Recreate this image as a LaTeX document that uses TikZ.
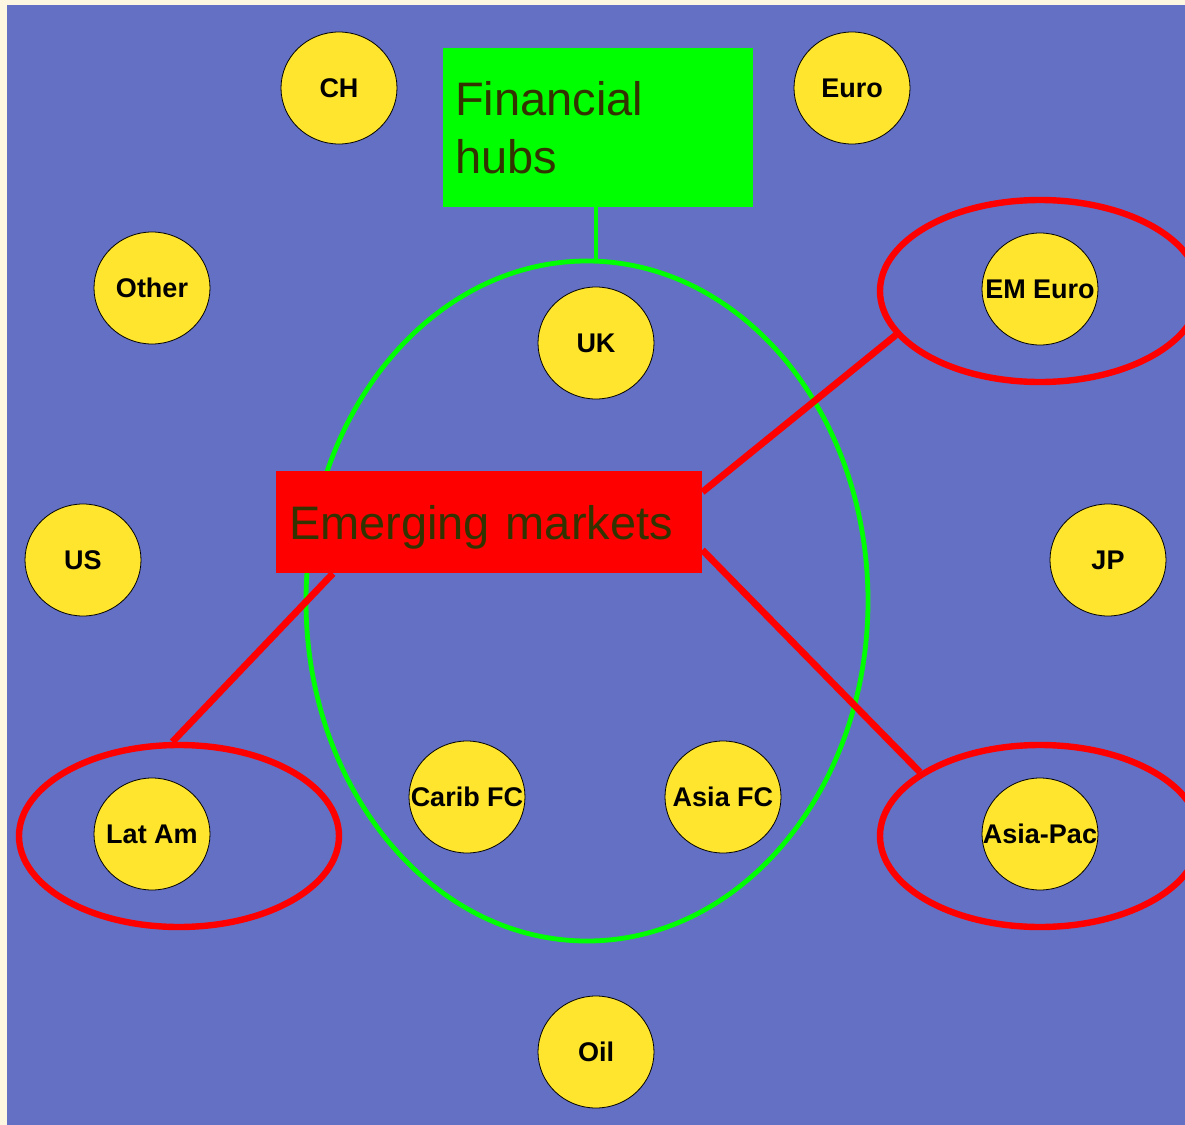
\documentclass[tikz,border=0pt]{standalone}
\usepackage{fontspec}
\setmainfont{Liberation Sans}
\usetikzlibrary{shapes.geometric}
\definecolor{slide}{HTML}{6370C4}
\definecolor{margin}{HTML}{FDF6E1}
\definecolor{coin}{HTML}{FFE52D}
\definecolor{olive}{HTML}{333300}
\newcommand{\mlabel}[1]{\makebox[0pt]{#1}}
\tikzset{
    %Define style for the market circles
    mkt/.style={
           ellipse,
           draw=black, thin,
           fill=coin,
           minimum width=58pt,
           minimum height=56pt,
           inner sep=0pt,
           font=\fontsize{13.5}{15}\selectfont\bfseries},
    % Define style for rings round a group
    ring/.style={
           ellipse,
           draw,
           line width=3.2pt,
           minimum width=160pt,
           minimum height=91pt,
           inner sep=0pt},
    % Define style for the label boxes
    tag/.style={
           rectangle,
           inner ysep=0pt,
           align=left,
           text=olive,
           font=\fontsize{23.5}{29}\selectfont},
    % Define red connector style
    link/.style={
           draw=red,
           line width=3.4pt}
}
\begin{document}
\begin{tikzpicture}[x=0.5pt, y=-0.5pt]

 \clip (0,0) rectangle (1185,1125);
 \fill[margin] (0,0) rectangle (1185,1125);
 \fill[slide] (7,5) rectangle (1185,1125);

 % groups
 \node[ring, draw=green, line width=2.4pt, minimum width=281pt, minimum height=340pt] (fhring) at (587,601) {};
 \node[ring, draw=red] (emring) at (1040,291) {};
 \node[ring, draw=red] (laring) at (179,836) {};
 \node[ring, draw=red] (apring) at (1040,836) {};

 % labels
 \node[tag, fill=green, text width=143pt, inner xsep=6pt, minimum height=79.5pt] (hubs) at (598,127.5) {Financial\\hubs};
 \node[tag, fill=red, text width=200pt, inner xsep=6.5pt, minimum height=51pt, text depth=0pt] (em) at (489,522) {Emerging markets};

 \draw[green, line width=2.4pt] ([xshift=-1pt]hubs.south) -- ([xshift=-1pt]hubs.south |- fhring.north);
 \draw[link] ([yshift=15pt]em.east) -- (emring.197);
 \draw[link] ([yshift=-14pt]em.east) -- (apring.152);
 \draw[link] ([xshift=-78pt]em.south) -- (laring.94);

 % markets
 \node[mkt] (ch) at (339,88) {\mlabel{CH}};
 \node[mkt] (euro) at (852,88) {\mlabel{Euro}};
 \node[mkt] (other) at (152,288) {\mlabel{Other}};
 \node[mkt] (uk) at (596,343) {\mlabel{UK}};
 \node[mkt] (emeuro) at (1040,289) {\mlabel{EM Euro}};
 \node[mkt] (us) at (83,560) {\mlabel{US}};
 \node[mkt] (jp) at (1108,560) {\mlabel{JP}};
 \node[mkt] (carib) at (467,797) {\mlabel{Carib FC}};
 \node[mkt] (asiafc) at (723,797) {\mlabel{Asia FC}};
 \node[mkt] (latam) at (152,834) {\mlabel{Lat Am}};
 \node[mkt] (asiapac) at (1040,834) {\mlabel{Asia-Pac}};
 \node[mkt] (oil) at (596,1052) {\mlabel{Oil}};
\end{tikzpicture}
\end{document}
